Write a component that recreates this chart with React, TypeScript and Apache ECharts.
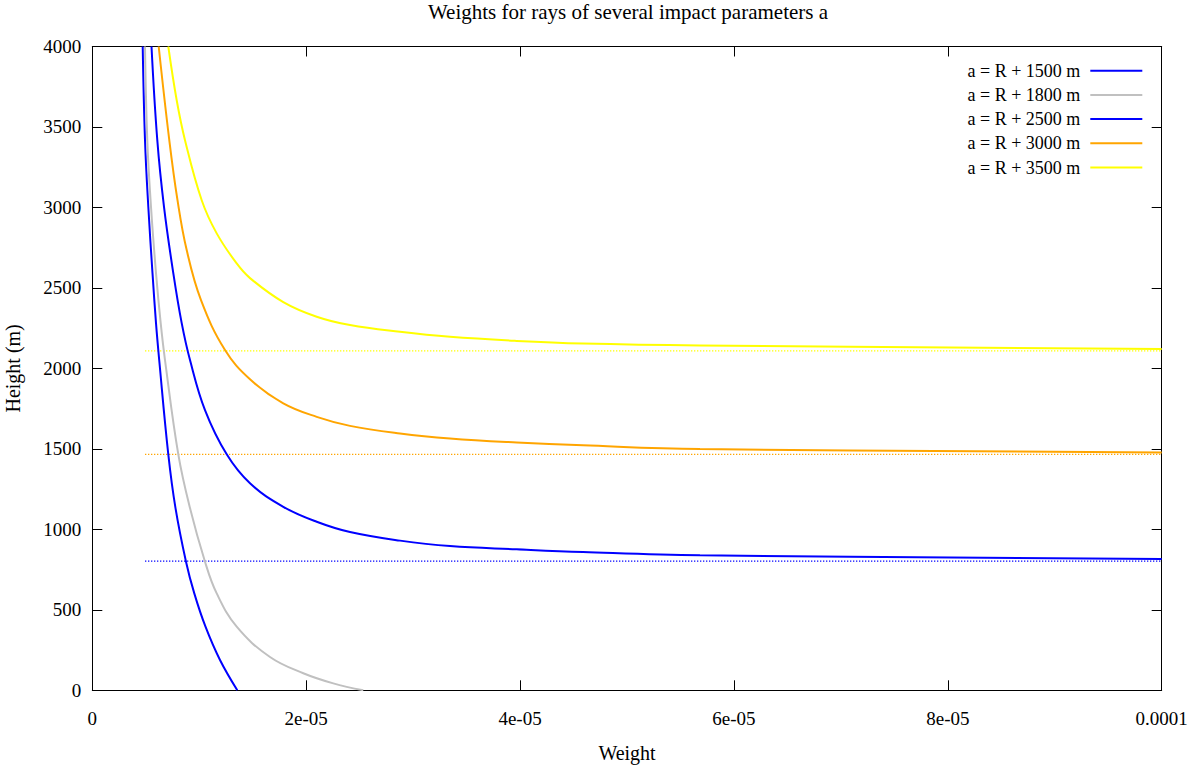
import React, { useEffect, useRef } from "react";
import * as echarts from "echarts";

const chartTitle = "Weights for rays of several impact parameters a";
const xAxisName = "Weight";
const yAxisName = "Height (m)";

const seriesNames = [
  "a = R + 1500 m",
  "a = R + 1800 m",
  "a = R + 2500 m",
  "a = R + 3000 m",
  "a = R + 3500 m",
];
const seriesColors = ["#0000ff", "#c0c0c0", "#0000ff", "#ffa500", "#ffff00"];

// [weight, height (m)]
const curve1500: [number, number][] = [
  [4.713e-6, 4000], [4.928e-6, 3418], [5.237e-6, 3004], [5.629e-6, 2592],
  [5.957e-6, 2281], [6.256e-6, 2052], [7.107e-6, 1466], [7.78e-6, 1132],
  [8.762e-6, 799], [9.538e-6, 602], [1.0585e-5, 395], [1.1941e-5, 188],
  [1.3559e-5, 0],
];
const curve1800: [number, number][] = [
  [4.928e-6, 4000], [5.143e-6, 3418], [5.489e-6, 3004], [5.957e-6, 2592],
  [6.396e-6, 2281], [6.798e-6, 2052], [8.042e-6, 1466], [9.136e-6, 1132],
  [1.0539e-5, 799], [1.1633e-5, 602], [1.3503e-5, 395], [1.6617e-5, 207],
  [1.9731e-5, 106], [2.2536e-5, 43], [2.5341e-5, 0],
];
const curve2500: [number, number][] = [
  [5.536e-6, 4000], [6.078e-6, 3418], [6.705e-6, 3004], [7.574e-6, 2592],
  [8.36e-6, 2281], [9.136e-6, 2052], [1.0539e-5, 1741], [1.2568e-5, 1466],
  [1.4747e-5, 1286], [1.786e-5, 1140], [2.0984e-5, 1047], [2.4098e-5, 983],
  [2.8773e-5, 930], [3.3449e-5, 896], [3.9686e-5, 876], [4.5886e-5, 859],
  [5.6826e-5, 839], [1.0e-4, 816],
];
const curve3000: [number, number][] = [
  [6.209e-6, 4000], [7.2e-6, 3418], [7.967e-6, 3045], [8.827e-6, 2735],
  [1.0165e-5, 2424], [1.2409e-5, 2114], [1.4747e-5, 1932], [1.786e-5, 1783],
  [2.0984e-5, 1699], [2.4098e-5, 1643], [2.8773e-5, 1596], [3.3449e-5, 1565],
  [3.9686e-5, 1540], [4.5886e-5, 1522], [5.6826e-5, 1499], [1.0e-4, 1478],
];
const curve3500: [number, number][] = [
  [7.107e-6, 4000], [7.892e-6, 3666], [8.668e-6, 3418], [1.023e-5, 3045],
  [1.1633e-5, 2839], [1.3503e-5, 2652], [1.4747e-5, 2561], [1.786e-5, 2412],
  [2.0984e-5, 2321], [2.4098e-5, 2269], [2.8773e-5, 2227], [3.3449e-5, 2196],
  [3.9686e-5, 2171], [4.5886e-5, 2155], [5.6826e-5, 2143], [1.0e-4, 2120],
];
const curves = [curve1500, curve1800, curve2500, curve3000, curve3500];

const asymptoteHeights = [803, 1466, 2109];
const asymptoteColors = ["#0000ff", "#ffa500", "#ffff00"];
const asymptoteStart = 4.93e-6;
const asymptoteEnd = 1.0e-4;

const xTickLabels = ["0", "2e-05", "4e-05", "6e-05", "8e-05", "0.0001"];
const yTickLabels = ["0", "500", "1000", "1500", "2000", "2500", "3000", "3500", "4000"];

const FONT = "'Liberation Serif', 'Times New Roman', serif";

export default function App() {
  const ref = useRef<HTMLDivElement>(null);
  useEffect(() => {
    if (!ref.current) return;
    const chart = echarts.init(ref.current, undefined, { renderer: "svg" });
    const mkLine = () => ({ show: true, onZero: false, lineStyle: { color: "#000", width: 1 } });
    const mkTick = () => ({ show: true, inside: true, length: 10, lineStyle: { color: "#000", width: 1 } });
    const xBase = { type: "value", min: 0, max: 1e-4, interval: 2e-5, splitLine: { show: false } };
    const yBase = { type: "value", min: 0, max: 4000, interval: 500, splitLine: { show: false } };

    const lineSeries = curves.map((c, i) => ({
      type: "line",
      name: seriesNames[i],
      data: c,
      xAxisIndex: 0,
      yAxisIndex: 0,
      symbol: "none",
      showSymbol: false,
      smooth: 0.4,
      lineStyle: { color: seriesColors[i], width: 2 },
      itemStyle: { color: seriesColors[i] },
      z: 3,
    }));
    const dotSeries = asymptoteHeights.map((h, i) => ({
      type: "line",
      name: "asymptote-" + i,
      data: [
        [asymptoteStart, h],
        [asymptoteEnd, h],
      ],
      xAxisIndex: 0,
      yAxisIndex: 0,
      symbol: "none",
      silent: true,
      lineStyle: { color: asymptoteColors[i], width: 1.3, type: [1.3, 1.7] },
      z: 2,
    }));

    chart.setOption({
      animation: false,
      backgroundColor: "#ffffff",
      textStyle: { fontFamily: FONT },
      title: {
        text: chartTitle,
        left: 628,
        top: 1,
        textAlign: "center",
        padding: 0,
        textStyle: { fontFamily: FONT, fontSize: 21, fontWeight: "normal", color: "#000" },
      },
      legend: {
        data: seriesNames.map((n, i) => ({ name: n, itemStyle: { color: seriesColors[i] } })),
        orient: "vertical",
        right: 48.7,
        top: 60.7,
        align: "right",
        icon: "rect",
        itemWidth: 52,
        itemHeight: 2,
        itemGap: 4.2,
        padding: 0,
        selectedMode: false,
        textStyle: { fontFamily: FONT, fontSize: 18, color: "#000", lineHeight: 20, padding: [0, 5, 0, 0] },
      },
      grid: {
        left: 92.3,
        right: 29.3,
        top: 46.5,
        bottom: 74.7,
        containLabel: false,
        outerBoundsMode: "none",
      },
      xAxis: [
        {
          ...xBase,
          position: "bottom",
          name: xAxisName,
          nameLocation: "middle",
          nameGap: 52.5,
          nameTextStyle: { fontFamily: FONT, fontSize: 20, color: "#000" },
          axisLine: mkLine(),
          axisTick: mkTick(),
          axisLabel: {
            margin: 19,
            fontFamily: FONT,
            fontSize: 19,
            color: "#000",
            formatter: (v: number) => xTickLabels[Math.round(v / 2e-5)] ?? "",
          },
        },
        {
          ...xBase,
          position: "top",
          axisLine: mkLine(),
          axisTick: mkTick(),
          axisLabel: { show: false },
        },
      ],
      yAxis: [
        {
          ...yBase,
          position: "left",
          name: yAxisName,
          nameLocation: "middle",
          nameGap: 69,
          nameTextStyle: { fontFamily: FONT, fontSize: 20, color: "#000" },
          axisLine: mkLine(),
          axisTick: mkTick(),
          axisLabel: {
            margin: 11,
            fontFamily: FONT,
            fontSize: 19,
            color: "#000",
            formatter: (v: number) => yTickLabels[Math.round(v / 500)] ?? "",
          },
        },
        {
          ...yBase,
          position: "right",
          axisLine: mkLine(),
          axisTick: mkTick(),
          axisLabel: { show: false },
        },
      ],
      series: [...dotSeries, ...lineSeries],
    });
    return () => chart.dispose();
  }, []);
  return (
    <div
      ref={ref}
      style={{ position: "fixed", left: 0, top: 0, width: 1191, height: 765, background: "#fff" }}
    />
  );
}
